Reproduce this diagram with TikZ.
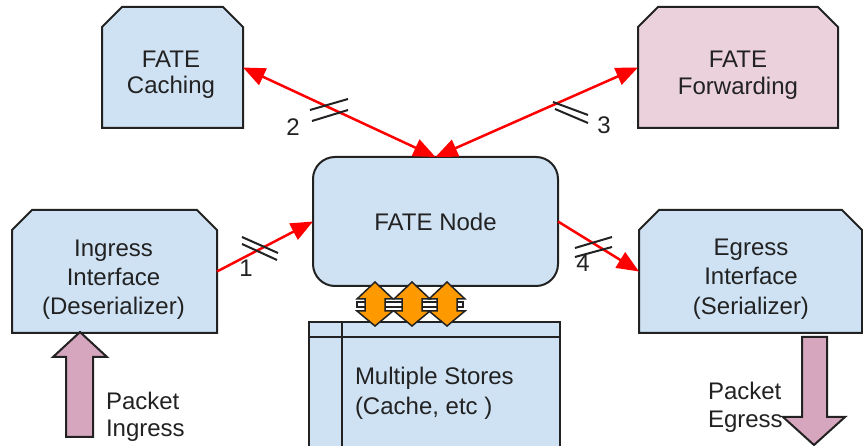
\documentclass[tikz,border=0pt]{standalone}
\usepackage{fontspec}
\setmainfont{Liberation Sans}
\usetikzlibrary{arrows.meta}
\definecolor{boxblue}{HTML}{CFE2F3}
\definecolor{boxpink}{HTML}{EAD1DC}
\definecolor{arrpink}{HTML}{D5A6BD}
\definecolor{orng}{HTML}{FF9900}
\definecolor{ink}{HTML}{222222}
\newcommand\chamferoutline[2]{%
  \filldraw[fill=#2,draw=ink,line width=2pt,line join=miter]
    (#1.south west) -- ([yshift=-20pt]#1.north west) -- ([xshift=20pt]#1.north west)
    -- ([xshift=-20pt]#1.north east) -- ([yshift=-20pt]#1.north east) -- (#1.south east) -- cycle;}
\begin{document}
\begin{tikzpicture}[x=1pt,y=-1pt,
  every node/.style={inner sep=0pt,outer sep=0pt},
  txt/.style={font=\fontsize{24}{#1}\selectfont,align=center,text=ink},
  txt/.default=29,
  ltxt/.style={font=\fontsize{24}{#1}\selectfont,align=left,text=ink},
  ltxt/.default=29,
  chbox/.style={rectangle},
  rbox/.style={rectangle,rounded corners=22pt,draw=ink,line width=2pt,fill=boxblue},
  sbox/.style={rectangle,draw=ink,line width=2pt,fill=boxblue},
  redarr/.style={draw=red,line width=2.5pt,-{Triangle[length=22pt,width=18pt]}},
  redarrs/.style={draw=red,line width=2.5pt,{Triangle[length=22pt,width=18pt]}-{Triangle[length=22pt,width=18pt]}},
  tickline/.style={draw=ink,line width=2pt},
  fatarrow/.style={fill=arrpink,draw=ink,line width=2pt,line join=miter},
  orarrow/.style={fill=orng,draw=ink,line width=1.5pt,line join=miter}]
\clip (0,0) rectangle (863,446);

% boxes
\node[chbox,minimum width=141pt,minimum height=121pt] (cach) at (172.5,67.5) {};
\chamferoutline{cach}{boxblue}
\node[chbox,minimum width=200pt,minimum height=121pt] (fwd) at (738,67.5) {};
\chamferoutline{fwd}{boxpink}
\node[rbox,minimum width=245pt,minimum height=129pt] (fnode) at (435.5,221.5) {};
\node[chbox,minimum width=205pt,minimum height=123pt] (ingr) at (114.5,271.5) {};
\chamferoutline{ingr}{boxblue}
\node[chbox,minimum width=223pt,minimum height=123pt] (egr) at (750.5,271.5) {};
\chamferoutline{egr}{boxblue}
\node[sbox,minimum width=251pt,minimum height=130pt] (st) at (434.5,387) {};
\draw[tickline] ([yshift=-15pt]st.north west) -- ([yshift=-15pt]st.north east);
\draw[tickline] ([xshift=33pt]st.north west) -- ([xshift=33pt]st.south west);

% texts
\node[txt=26] (cacht) at (171,74.9) {FATE\\Caching};
\node[txt=27] (fwdt) at (738,75.4) {FATE\\Forwarding};
\node[txt] (fnodet) at (435.5,221.5) {FATE Node};
\node[txt=29.3] (ingrt) at (113.5,279.8) {Ingress\\Interface\\(Deserializer)};
\node[txt=29.5] (egrt) at (751,279) {Egress\\Interface\\(Serializer)};
\node[ltxt=30,anchor=west] (stt) at (355,393.7) {Multiple Stores\\(Cache, etc )};
\node[ltxt=27,anchor=west] (pin) at (106,417.2) {Packet\\Ingress};
\node[ltxt=28,anchor=west] (pout) at (708,406.8) {Packet\\Egress};

% red connectors
\draw[redarr] (ingr.east) -- (fnode.west);
\draw[redarr] (fnode.east) -- (egr.west);
\draw[redarrs] (cach.east) -- (fnode.north);
\draw[redarrs] (fwd.west) -- (fnode.north);

% tick marks
\draw[tickline] (242,237) -- (278,253);
\draw[tickline] (242,244) -- (277,260);
\draw[tickline] (310,110) -- (348,99);
\draw[tickline] (312,121) -- (348,110);
\draw[tickline] (553,102) -- (588,115);
\draw[tickline] (555,109) -- (588,123);
\draw[tickline] (575,248) -- (612,237);
\draw[tickline] (575,257) -- (612,247);

% connector labels
\node[txt] (l1) at (246,268) {1};
\node[txt] (l2) at (293,127) {2};
\node[txt] (l3) at (604,125) {3};
\node[txt] (l4) at (583,263) {4};

% packet arrows
\draw[fatarrow] (80,332) -- (107,357) -- (93,357) -- (93,437) -- (66,437) -- (66,357) -- (53,357) -- cycle;
\draw[fatarrow] (802,337) -- (827,337) -- (827,417) -- (845,417) -- (814,445) -- (783,417) -- (802,417) -- cycle;

% store access arrows
\draw[fill=white,draw=ink,line width=1.5pt] (357,302) rectangle (463,307);
\foreach \cx in {375,412,447}{
  \draw[orarrow] (\cx,282) -- (\cx+18,299) -- (\cx+10,299) -- (\cx+10,311) -- (\cx+18,311)
    -- (\cx,326) -- (\cx-18,311) -- (\cx-10,311) -- (\cx-10,299) -- (\cx-18,299) -- cycle;
}
\end{tikzpicture}
\end{document}
